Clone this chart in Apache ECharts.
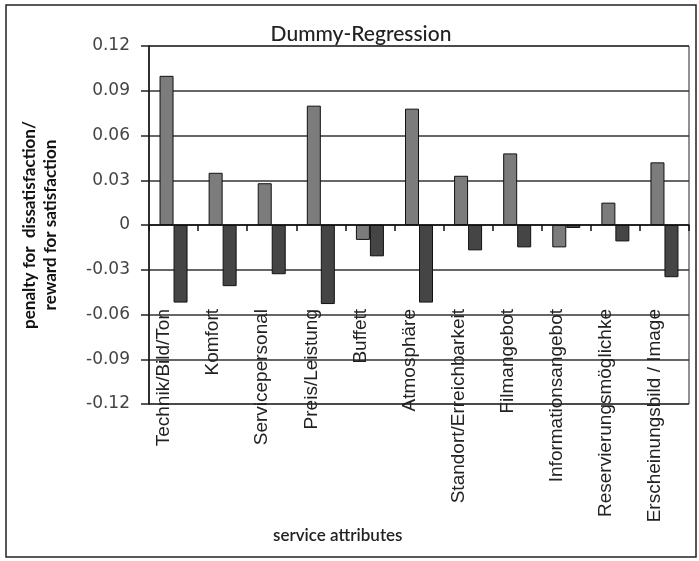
<!DOCTYPE html>
<html>
<head>
<meta charset="utf-8">
<script src="https://cdn.jsdelivr.net/npm/echarts@6/dist/echarts.min.js"></script>
<style>
  html, body { margin: 0; padding: 0; background: #fff; }
  #chart { width: 699px; height: 561px; }
</style>
</head>
<body>
<div id="chart"></div>
<script>
// Service attributes (x categories)
const categories = [
  'Technik/Bild/Ton', 'Komfort', 'Servicepersonal', 'Preis/Leistung', 'Buffett',
  'Atmosphäre', 'Standort/Erreichbarkeit', 'Filmangebot', 'Informationsangebot',
  'Reservierungsmöglichke', 'Erscheinungsbild / Image'
];
// Dummy-regression coefficients, first and second dummy per attribute
const firstDummy  = [0.100, 0.035, 0.028, 0.080, -0.010, 0.078, 0.033, 0.048, -0.015, 0.015, 0.042];
const secondDummy = [-0.052, -0.041, -0.033, -0.053, -0.021, -0.052, -0.017, -0.015, -0.002, -0.011, -0.035];
// Value axis ticks
const yTicks = [-0.12, -0.09, -0.06, -0.03, 0, 0.03, 0.06, 0.09, 0.12];

const chart = echarts.init(document.getElementById('chart'), null, { renderer: 'canvas' });

const barStyle = (color) => ({ color: color, borderColor: '#111', borderWidth: 1 });

chart.setOption({
  backgroundColor: '#fff',
  animation: false,
  title: {
    text: 'Dummy-Regression',
    left: 356, top: 19, textAlign: 'center',
    textStyle: { fontFamily: 'Lato', fontSize: 21, fontWeight: 500, color: '#222' }
  },
  graphic: [{
    type: 'rect', silent: true,
    shape: { x: 6, y: 5, width: 690, height: 552 },
    style: { fill: 'none', stroke: '#222', lineWidth: 1.5 }
  }, {
    type: 'text', silent: true,
    left: 273, top: 527,
    style: { text: 'service attributes', font: '600 17px Lato', fill: '#222' }
  }],
  grid: {
    left: 149, right: 10, top: 46, bottom: 157,
    containLabel: false, outerBoundsMode: 'none',
    show: true, borderColor: '#222', borderWidth: 1, backgroundColor: 'transparent'
  },
  xAxis: {
    type: 'category',
    data: categories,
    axisLine: { onZero: true, lineStyle: { color: '#111', width: 1.5 } },
    axisTick: { show: true, alignWithLabel: false, length: 6, lineStyle: { color: '#111', width: 1.5 } },
    axisLabel: {
      rotate: 90, margin: -95, interval: 0,
      verticalAlign: 'bottom',
      fontFamily: 'Liberation Sans', fontSize: 19, color: '#222'
    }
  },
  yAxis: {
    type: 'value',
    min: yTicks[0], max: yTicks[yTicks.length - 1], interval: 0.03,
    name: 'penalty for  dissatisfaction/\nreward for satisfaction',
    nameLocation: 'middle', nameRotate: 90, nameGap: 88,
    nameTextStyle: { fontFamily: 'Lato', fontWeight: 'bold', fontSize: 17, color: '#111', lineHeight: 21 },
    axisLine: { show: true, lineStyle: { color: '#111', width: 1.5 } },
    axisTick: { show: true, inside: false, length: 8, lineStyle: { color: '#222', width: 1.5 } },
    axisLabel: {
      margin: 19,
      fontFamily: 'DejaVu Sans', fontSize: 17, color: '#444',
      formatter: (v) => String(+v.toFixed(2))
    },
    splitLine: { show: true, lineStyle: { color: '#333', width: 1.5 } }
  },
  series: [{
    type: 'bar', name: 'first', data: firstDummy,
    barWidth: 14, barGap: '0%',
    itemStyle: barStyle('#7c7c7c')
  }, {
    type: 'bar', name: 'second', data: secondDummy,
    barWidth: 14, barGap: '0%',
    itemStyle: barStyle('#454545')
  }]
});
</script>
</body>
</html>
